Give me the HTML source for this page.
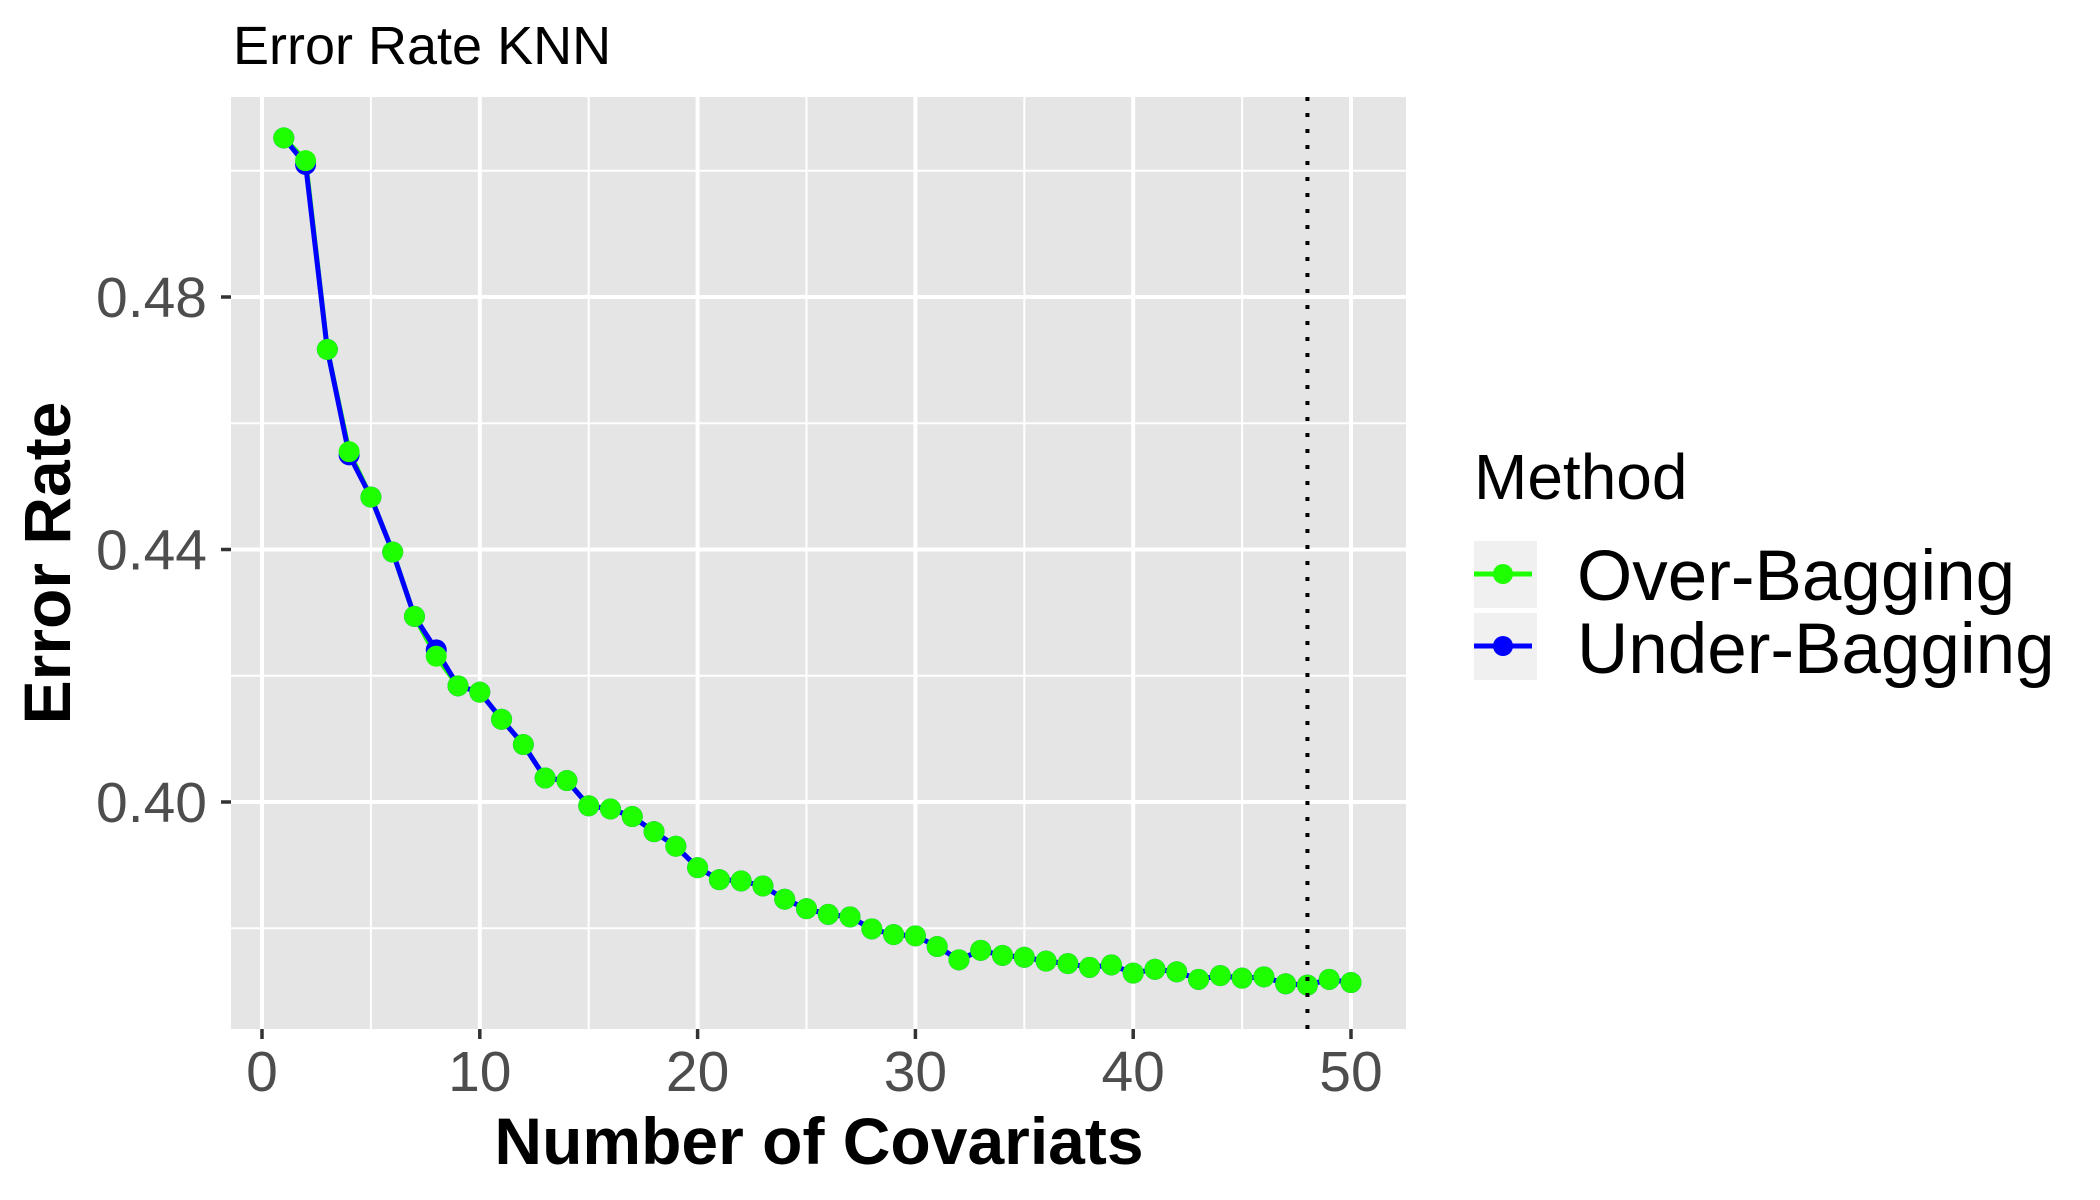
<!DOCTYPE html>
<html><head><meta charset="utf-8"><style>
html,body{margin:0;padding:0;background:#fff;}
svg{display:block;font-family:"Liberation Sans",sans-serif;}
</style></head><body>
<svg id="chart" width="2100" height="1200" viewBox="0 0 2100 1200">
<text x="233" y="64" font-size="54" fill="#000">Error Rate KNN</text>
<rect x="231" y="97" width="1175" height="932" fill="#E5E5E5"/>
<g id="grid"></g>
<g id="axes"></g>
<g id="series"></g>
<text x="819" y="1164" font-size="66" font-weight="bold" text-anchor="middle" fill="#000">Number of Covariats</text>
<text transform="translate(70,563) rotate(-90)" font-size="66" font-weight="bold" text-anchor="middle" fill="#000">Error Rate</text>
<g>
<text x="1474" y="499" font-size="64" fill="#000">Method</text>
<g>
<rect x="1474" y="541" width="63" height="67" fill="#F0F0F0"/>
<line x1="1474" y1="574" x2="1532" y2="574" stroke="#1EFF00" stroke-width="5"/>
<circle cx="1503" cy="574" r="10" fill="#1EFF00"/>
<text x="1577" y="600" font-size="71" fill="#000">Over-Bagging</text>
</g>
<g>
<rect x="1474" y="613" width="63" height="67" fill="#F0F0F0"/>
<line x1="1474" y1="646" x2="1532" y2="646" stroke="#0000FF" stroke-width="5"/>
<circle cx="1503" cy="646" r="10" fill="#0000FF"/>
<text x="1577" y="673" font-size="71" fill="#000">Under-Bagging</text>
</g>
</g>
</svg>
<script>
const xs = [1,2,3,4,5,6,7,8,9,10,11,12,13,14,15,16,17,18,19,20,21,22,23,24,25,26,27,28,29,30,31,32,33,34,35,36,37,38,39,40,41,42,43,44,45,46,47,48,49,50];
const overBagging = [0.5052,0.5016,0.4717,0.4555,0.4483,0.4396,0.4294,0.4231,0.4184,0.4174,0.4131,0.4091,0.4038,0.4034,0.3994,0.3989,0.3977,0.3953,0.3930,0.3896,0.3877,0.3875,0.3867,0.3846,0.3831,0.3822,0.3818,0.3799,0.3790,0.3788,0.3771,0.3750,0.3765,0.3757,0.3754,0.3748,0.3744,0.3738,0.3742,0.3729,0.3735,0.3731,0.3719,0.3725,0.3721,0.3723,0.3712,0.3710,0.3719,0.3714];
const underBagging = [0.5052,0.5010,0.4717,0.4550,0.4483,0.4396,0.4294,0.4241,0.4184,0.4174,0.4131,0.4091,0.4038,0.4034,0.3994,0.3989,0.3977,0.3953,0.3930,0.3896,0.3877,0.3875,0.3867,0.3846,0.3831,0.3822,0.3818,0.3799,0.3790,0.3788,0.3771,0.3750,0.3765,0.3757,0.3754,0.3748,0.3744,0.3738,0.3742,0.3729,0.3735,0.3731,0.3719,0.3725,0.3721,0.3723,0.3712,0.3710,0.3719,0.3714];
const xTicks = [0,10,20,30,40,50];
const xMinor = [5,15,25,35,45];
const yTicks = [0.40,0.44,0.48];
const yTickLabels = ["0.40","0.44","0.48"];
const yMinor = [0.38,0.42,0.46,0.50];
const cutoff = [48];

const NS = "http://www.w3.org/2000/svg";
const PL=231, PR=1406, PT=97, PB=1029;
function X(v){ return 262 + v*21.78; }
function Y(v){ return 802 - (v-0.40)/0.04*252.5; }
function mk(parent, tag, attrs){ const e=document.createElementNS(NS,tag); for(const k in attrs) e.setAttribute(k,attrs[k]); parent.appendChild(e); return e; }
const grid=document.getElementById('grid'), axes=document.getElementById('axes'), series=document.getElementById('series');

yMinor.forEach(v=>{ const l=mk(grid,'line',{x1:PL,x2:PR,y1:Y(v),y2:Y(v),stroke:'#fff','stroke-width':2});

 });
xMinor.forEach(v=>{ const l=mk(grid,'line',{x1:X(v),x2:X(v),y1:PT,y2:PB,stroke:'#fff','stroke-width':2});

 });
yTicks.forEach((v,i)=>{
 const l=mk(grid,'line',{x1:PL,x2:PR,y1:Y(v),y2:Y(v),stroke:'#fff','stroke-width':4});
 
 
 const t=mk(axes,'line',{x1:PL-10,x2:PL,y1:Y(v),y2:Y(v),stroke:'#333','stroke-width':3.5});
 
 
 const tx=mk(axes,'text',{x:207,y:Y(v)+20,'font-size':57,'text-anchor':'end',fill:'#4D4D4D'});
 tx.textContent=yTickLabels[i];
 
 
});
xTicks.forEach(v=>{
 const l=mk(grid,'line',{x1:X(v),x2:X(v),y1:PT,y2:PB,stroke:'#fff','stroke-width':4});
 
 
 const t=mk(axes,'line',{x1:X(v),x2:X(v),y1:PB,y2:PB+10,stroke:'#333','stroke-width':3.5});
 
 
 const tx=mk(axes,'text',{x:X(v),y:1091,'font-size':57,'text-anchor':'middle',fill:'#4D4D4D'});
 tx.textContent=String(v);
 
 
});
function path(vals){ return vals.map((v,i)=>(i?'L':'M')+X(xs[i]).toFixed(1)+' '+Y(v).toFixed(1)).join(' '); }
const gl=mk(series,'path',{d:path(overBagging),fill:'none',stroke:'#1EFF00','stroke-width':5});


const bl=mk(series,'path',{d:path(underBagging),fill:'none',stroke:'#0000FF','stroke-width':5});


underBagging.forEach((v,i)=>{ const c=mk(series,'circle',{cx:X(xs[i]),cy:Y(v),r:10.5,fill:'#0000FF'});

 });
overBagging.forEach((v,i)=>{ const c=mk(series,'circle',{cx:X(xs[i]),cy:Y(v),r:10.5,fill:'#1EFF00'});

 });
cutoff.forEach(v=>{ const l=mk(series,'line',{x1:X(v),x2:X(v),y1:PT,y2:PB,stroke:'#000','stroke-width':4,'stroke-dasharray':'4 12'});

 });
</script>
</body></html>
